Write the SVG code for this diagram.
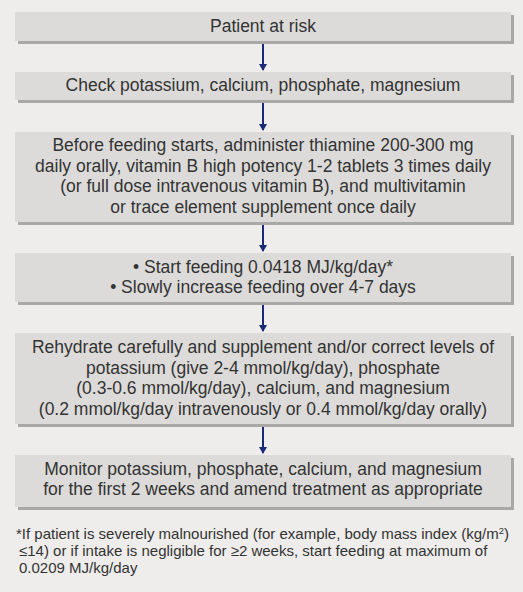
<svg xmlns="http://www.w3.org/2000/svg" width="523" height="592" viewBox="0 0 523 592">
<style>
.bx{fill:#dcdbd9}
.sh{fill:#a8a8a8}
.t{font-family:"Liberation Sans",Arial,sans-serif;font-size:17.5px;fill:#333333;text-anchor:middle}
.fn{font-family:"Liberation Sans",Arial,sans-serif;font-size:15px;fill:#333333}
.cn{stroke:#1b2a78;stroke-width:2;fill:none}
</style>
<defs>
<marker id="ah" markerWidth="8" markerHeight="8" refX="6" refY="4" orient="auto" markerUnits="userSpaceOnUse">
<path d="M0,0 L7,4 L0,8 Z" fill="#1b2a78"/>
</marker>
</defs>
<rect width="523" height="592" fill="#eeedeb"/>
<g id="connectors">
<line class="cn" x1="263" y1="44" x2="263" y2="70" marker-end="url(#ah)"/>
<line class="cn" x1="263" y1="103" x2="263" y2="130" marker-end="url(#ah)"/>
<line class="cn" x1="263" y1="225" x2="263" y2="251" marker-end="url(#ah)"/>
<line class="cn" x1="263" y1="305" x2="263" y2="331" marker-end="url(#ah)"/>
<line class="cn" x1="263" y1="427" x2="263" y2="453" marker-end="url(#ah)"/>
</g>
<g id="n1">
<rect class="sh" x="18" y="15" width="496" height="29"/>
<rect class="bx" x="15" y="12" width="496" height="29"/>
<text class="t" x="263" y="32">Patient at risk</text>
</g>
<g id="n2">
<rect class="sh" x="18" y="75" width="496" height="28"/>
<rect class="bx" x="15" y="72" width="496" height="28"/>
<text class="t" x="263" y="91">Check potassium, calcium, phosphate, magnesium</text>
</g>
<g id="n3">
<rect class="sh" x="18" y="135" width="496" height="90"/>
<rect class="bx" x="15" y="132" width="496" height="90"/>
<text class="t" x="263" y="151">Before feeding starts, administer thiamine  200-300 mg</text>
<text class="t" x="263" y="172">daily orally, vitamin B high potency 1-2 tablets 3 times daily</text>
<text class="t" x="263" y="192">(or full dose intravenous vitamin B),  and multivitamin</text>
<text class="t" x="263" y="213">or trace element supplement once daily</text>
</g>
<g id="n4">
<rect class="sh" x="18" y="256" width="496" height="49"/>
<rect class="bx" x="15" y="253" width="496" height="49"/>
<text class="t" x="263" y="273">• Start feeding 0.0418 MJ/kg/day*</text>
<text class="t" x="263" y="293">• Slowly increase feeding over 4-7 days</text>
</g>
<g id="n5">
<rect class="sh" x="18" y="336" width="496" height="91"/>
<rect class="bx" x="15" y="333" width="496" height="91"/>
<text class="t" x="263" y="353">Rehydrate carefully  and supplement and/or correct levels of</text>
<text class="t" x="263" y="374">potassium (give 2-4 mmol/kg/day), phosphate</text>
<text class="t" x="263" y="394">(0.3-0.6 mmol/kg/day), calcium, and magnesium</text>
<text class="t" x="263" y="415">(0.2 mmol/kg/day intravenously or 0.4 mmol/kg/day orally)</text>
</g>
<g id="n6">
<rect class="sh" x="18" y="458" width="496" height="52"/>
<rect class="bx" x="15" y="455" width="496" height="52"/>
<text class="t" x="263" y="475">Monitor potassium, phosphate, calcium, and magnesium</text>
<text class="t" x="263" y="495">for the first 2 weeks and amend treatment as appropriate</text>
</g>
<g id="footnote">
<text class="fn" x="16" y="539">*If patient is severely malnourished (for example, body mass index (kg/m<tspan font-size="9.5" dy="-5">2</tspan><tspan dy="5">)</tspan></text>
<text class="fn" x="19" y="556">≤14) or if intake is negligible for ≥2 weeks, start feeding at maximum of</text>
<text class="fn" x="19" y="573">0.0209 MJ/kg/day</text>
</g>
</svg>
